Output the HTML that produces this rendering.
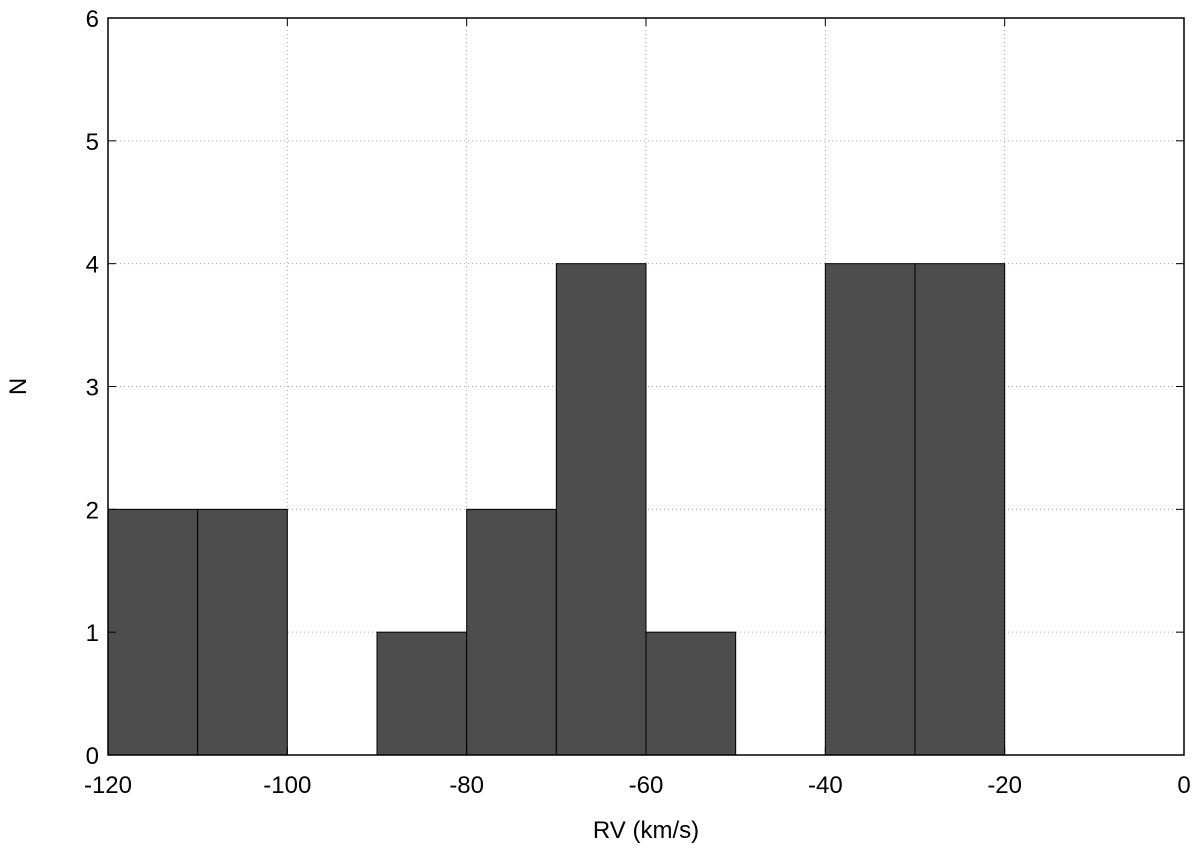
<!DOCTYPE html>
<html><head><meta charset="utf-8"><style>
html,body{margin:0;padding:0;background:#fff;}
svg{display:block;font-family:"Liberation Sans",sans-serif;}
</style></head><body>
<svg id="chart" width="1200" height="855"></svg>
<script>
const binStarts = [-120,-110,-100,-90,-80,-70,-60,-50,-40,-30,-20,-10];
const counts = [2,2,0,1,2,4,1,0,4,4,0,0];
const binWidth = 10;
const xTicks = [-120,-100,-80,-60,-40,-20,0];
const yTicks = [0,1,2,3,4,5,6];
const L=108,R=1184,T=18,B=755;
const xMin=-120,xMax=0,yMin=0,yMax=6;
const X=v=>L+(v-xMin)/(xMax-xMin)*(R-L);
const Y=v=>B-(v-yMin)/(yMax-yMin)*(B-T);
const svg=document.getElementById('chart');
const NS='http://www.w3.org/2000/svg';
function mk(tag,attrs,parent){const e=document.createElementNS(NS,tag);for(const k in attrs)e.setAttribute(k,attrs[k]);(parent||svg).appendChild(e);return e;}
xTicks.forEach(t=>{if(t===xMin||t===xMax)return;
 const g=mk('line',{x1:X(t),x2:X(t),y1:T,y2:B,stroke:'#aaa','stroke-width':1,'stroke-dasharray':'1,3'});
 
 });
yTicks.forEach(t=>{if(t===yMin||t===yMax)return;
 const g=mk('line',{x1:L,x2:R,y1:Y(t),y2:Y(t),stroke:'#aaa','stroke-width':1,'stroke-dasharray':'1,3'});
 
 });
binStarts.forEach((s,i)=>{if(!counts[i])return;
 const r=mk('rect',{x:X(s),y:Y(counts[i]),width:X(s+binWidth)-X(s),height:Y(0)-Y(counts[i]),fill:'#4d4d4d',stroke:'#000','stroke-width':1});
 
 });
xTicks.forEach(t=>{
 mk('line',{x1:X(t),x2:X(t),y1:B,y2:B-8,stroke:'#000'});
 mk('line',{x1:X(t),x2:X(t),y1:T,y2:T+8,stroke:'#000'});
 const tx=mk('text',{x:X(t),y:B+38,'text-anchor':'middle','font-size':24});
 tx.textContent=t;
 
 });
yTicks.forEach(t=>{
 mk('line',{x1:L,x2:L+8,y1:Y(t),y2:Y(t),stroke:'#000'});
 mk('line',{x1:R,x2:R-8,y1:Y(t),y2:Y(t),stroke:'#000'});
 const tx=mk('text',{x:L-9,y:Y(t)+9,'text-anchor':'end','font-size':24});
 tx.textContent=t;
 
 });
const frame=mk('rect',{x:L,y:T,width:R-L,height:B-T,fill:'none',stroke:'#000','stroke-width':1.5});


const xt=mk('text',{x:(L+R)/2,y:838,'text-anchor':'middle','font-size':24});
xt.textContent='RV (km/s)';


const yt=mk('text',{x:0,y:0,'text-anchor':'middle','font-size':24,transform:'translate(26,'+((T+B)/2)+') rotate(-90)'});
yt.textContent='N';


</script>
</body></html>
